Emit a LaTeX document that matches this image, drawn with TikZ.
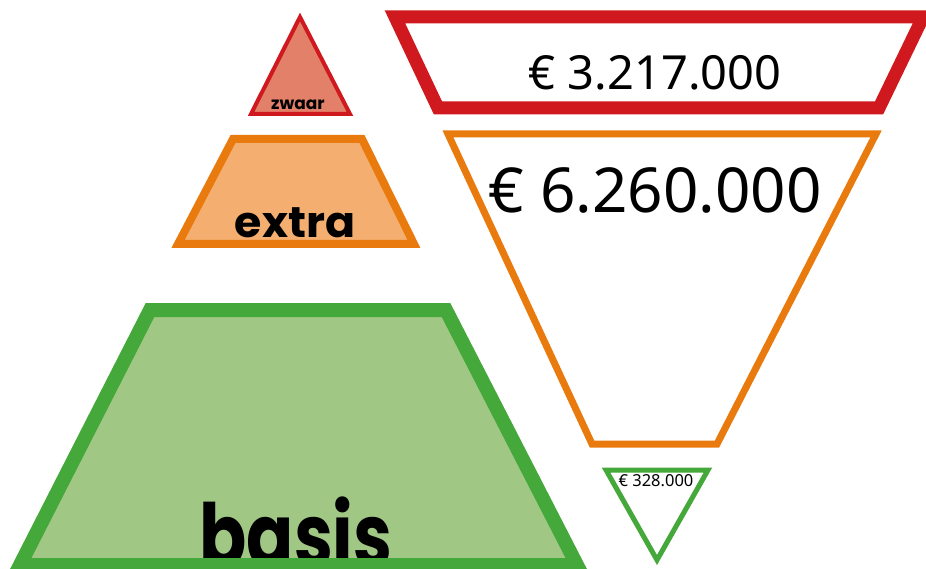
\documentclass[tikz,border=0pt]{standalone}
\usepackage{fontspec}
\setmainfont{Noto Sans}
\newfontfamily\geofont{Poppins}
\definecolor{rline}{HTML}{D0191E}
\definecolor{rfill}{HTML}{E3806A}
\definecolor{oline}{HTML}{E87A0E}
\definecolor{ofill}{HTML}{F4AE70}
\definecolor{gline}{HTML}{44A83A}
\definecolor{gfill}{HTML}{A1C785}
\begin{document}
\begin{tikzpicture}[x=1pt,y=-1pt,
  poly/.style={line join=miter},
  geo/.style={inner sep=0pt, anchor=base, font=\geofont\bfseries},
  amount/.style={inner sep=0pt, anchor=base}]
\useasboundingbox (0,0) rectangle (926,569);
\clip (0,0) rectangle (926,569);
\fill[white] (0,0) rectangle (926,569);

% zwaar triangle
\fill[rfill] (251,114) -- (300,17) -- (350,114) -- cycle;
\node[geo, font=\geofont\bfseries\fontsize{17}{17}\selectfont] (zwaar) at (298,110) {zwaar};
\draw[poly, rline, line width=4] (251,114) -- (300,17) -- (350,114) -- cycle;

% extra trapezoid
\fill[ofill] (233,139) -- (362,139) -- (414,244) -- (178,244) -- cycle;
\node[geo, font=\geofont\bfseries\fontsize{43}{43}\selectfont] (extra) at (295,238) {\scalebox{1.03}[1]{extra}};
\draw[poly, oline, line width=8] (233,139) -- (362,139) -- (414,244) -- (178,244) -- cycle;

% basis trapezoid
\fill[gfill] (150,310) -- (446,310) -- (577,565) -- (20,565) -- cycle;
\node[geo, font=\geofont\bfseries\fontsize{87}{87}\selectfont] (basis) at (296,566) {\scalebox{0.8}[1]{basis}};
\draw[poly, gline, line width=14] (150,310) -- (446,310) -- (577,565) -- (20,565) -- cycle;

% red inverted trapezoid
\draw[poly, rline, line width=13, fill=white] (395,17) -- (923,17) -- (879,108) -- (438,108) -- cycle;
\node[amount, font=\fontsize{47}{47}\selectfont] (a1) at (655,90) {€ 3.217.000};

% orange inverted trapezoid
\draw[poly, oline, line width=7, fill=white] (448,134) -- (876,134) -- (717,444) -- (592,444) -- cycle;
\node[amount, font=\fontsize{62}{62}\selectfont] (a2) at (655,213) {€ 6.260.000};

% green small inverted triangle
\draw[poly, gline, line width=5, fill=white] (606,470) -- (708,470) -- (657,560) -- cycle;
\node[amount, font=\fontsize{16.5}{16.5}\selectfont] (a3) at (656,486) {€ 328.000};
\end{tikzpicture}
\end{document}
